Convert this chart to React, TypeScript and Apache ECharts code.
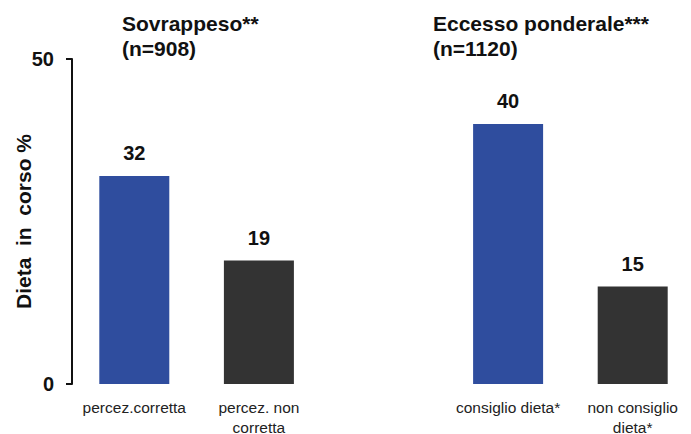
import React, { useEffect, useRef } from "react";
import * as echarts from "echarts";

const categories = ["percez.corretta", "percez. non\ncorretta", "", "consiglio dieta*", "non consiglio\ndieta*"];
const values: (number | null)[] = [32, 19, null, 40, 15];
const barColors = ["#2f4d9e", "#333333", "#333333", "#2f4d9e", "#333333"];
const yTicks = [0, 50];
const groupTitles = ["Sovrappeso**\n(n=908)", "Eccesso ponderale***\n(n=1120)"];
const yName = "Dieta  in  corso %";

export default function App() {
  const ref = useRef<HTMLDivElement>(null);
  useEffect(() => {
    if (!ref.current) return;
    const chart = echarts.init(ref.current, null, { renderer: "svg" });
    const font = "Liberation Sans, Arial, sans-serif";
    const titleStyle = { fontSize: 21, fontWeight: "bold", color: "#111", lineHeight: 25, fontFamily: font };
    chart.setOption({
      animation: false,
      textStyle: { fontFamily: font },
      title: [
        { text: groupTitles[0], left: 117, top: 6, textStyle: titleStyle },
        { text: groupTitles[1], left: 428, top: 6, textStyle: titleStyle },
      ],
      grid: { left: 72, top: 59, bottom: 50, width: 623, containLabel: false, outerBoundsMode: "none" },
      xAxis: {
        type: "category",
        data: categories,
        axisLine: { show: false },
        axisTick: { show: false },
        axisLabel: { fontSize: 15.5, color: "#222", lineHeight: 20, margin: 13, interval: 0, fontFamily: font },
      },
      yAxis: {
        type: "value",
        min: 0,
        max: 50,
        interval: 50,
        name: yName,
        nameLocation: "middle",
        nameGap: 38,
        nameMoveOverlap: false,
        nameTextStyle: { fontSize: 21, fontWeight: "bold", color: "#111", fontFamily: font },
        axisLine: { show: true, lineStyle: { color: "#111", width: 2 } },
        axisTick: { show: true, length: 6, lineStyle: { color: "#111", width: 2 } },
        axisLabel: {
          fontSize: 20,
          fontWeight: "bold",
          color: "#111",
          margin: 18,
          padding: [0, 0, 5, 0],
          fontFamily: font,
          formatter: (v: number) => (yTicks.includes(v) ? String(v) : ""),
        },
        splitLine: { show: false },
      },
      series: [
        {
          type: "bar",
          barWidth: 70,
          data: values.map((v, i) => ({ value: v === null ? "-" : v, itemStyle: { color: barColors[i] } })),
          label: {
            show: true,
            position: "top",
            distance: 13,
            fontSize: 20,
            fontWeight: "bold",
            color: "#111",
            fontFamily: font,
          },
        },
      ],
    });
    return () => chart.dispose();
  }, []);
  return <div ref={ref} style={{ width: 691, height: 434, position: "absolute", left: 0, top: 0 }} />;
}
